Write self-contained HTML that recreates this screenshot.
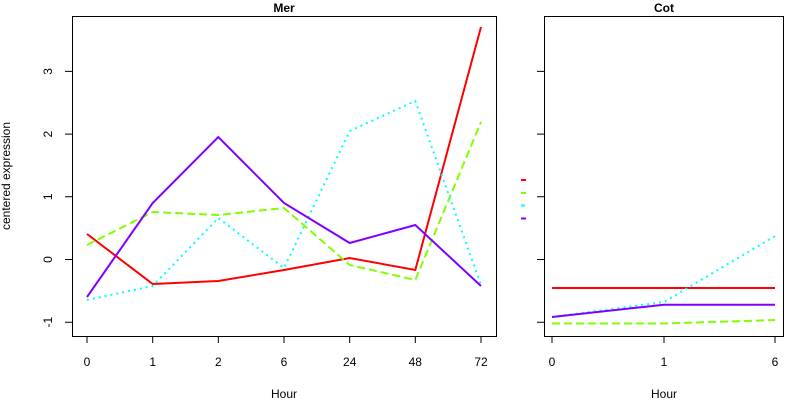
<!DOCTYPE html>
<html><head><style>body{margin:0;background:#fff}svg text{font-family:"Liberation Sans",sans-serif;font-size:12px}</style></head><body>
<svg width="800" height="400" xmlns="http://www.w3.org/2000/svg">
<g fill="none" stroke="#000" stroke-width="1">
<rect x="72.5" y="16.5" width="424" height="320"/>
<rect x="544.5" y="16.5" width="239" height="320"/>
<path d="M87 336v7M152.7 336v7M218.3 336v7M284 336v7M349.7 336v7M415.3 336v7M481 336v7"/>
<path d="M552 336v7M664 336v7M775 336v7"/>
<path d="M72 322.2h-7M72 259.5h-7M72 196.8h-7M72 134.1h-7M72 71.4h-7"/>
<path d="M544 322.2h-7M544 259.5h-7M544 196.8h-7M544 134.1h-7M544 71.4h-7"/>
</g>
<g text-anchor="middle">
<text x="87" y="366">0</text><text x="152.7" y="366">1</text><text x="218.3" y="366">2</text><text x="284" y="366">6</text><text x="349.7" y="366">24</text><text x="415.3" y="366">48</text><text x="481" y="366">72</text>
<text x="552" y="366">0</text><text x="664" y="366">1</text><text x="775" y="366">6</text>
<text x="284" y="398">Hour</text><text x="664" y="398">Hour</text>
<text x="284" y="12" font-weight="bold">Mer</text><text x="664" y="12" font-weight="bold">Cot</text>
<text transform="translate(52,322.2) rotate(-90)">-1</text>
<text transform="translate(52,259.5) rotate(-90)">0</text>
<text transform="translate(52,196.8) rotate(-90)">1</text>
<text transform="translate(52,134.1) rotate(-90)">2</text>
<text transform="translate(52,71.4) rotate(-90)">3</text>
<text transform="translate(10,176) rotate(-90)" font-size="11">centered expression</text>
</g>
<g fill="none" stroke-width="2">
<polyline stroke="#ff0000" points="87,234 152.7,284 218.3,281 284,270 349.7,258 415.3,270 481,27"/>
<polyline stroke="#80ff00" stroke-dasharray="8,4" points="87,245 152.7,212 218.3,215 284,208 349.7,265 415.3,280 481,122"/>
<polyline stroke="#00ffff" stroke-dasharray="2,4" points="87,300 152.7,286 218.3,218 284,268 349.7,131 415.3,101 481,285"/>
<polyline stroke="#8000ff" points="87,297 152.7,203 218.3,137 284,203 349.7,243 415.3,225 481,286"/>
<polyline stroke="#ff0000" points="552,288 664,288 775,288"/>
<polyline stroke="#80ff00" stroke-dasharray="8,4" points="552,323.5 664,323.5 775,320"/>
<polyline stroke="#00ffff" stroke-dasharray="2,4" points="552,317 664,302 775,236"/>
<polyline stroke="#8000ff" points="552,317 664,304.7 775,304.7"/>
<path stroke="#ff0000" d="M521 180h5"/>
<path stroke="#80ff00" d="M521 193h5"/>
<path stroke="#00ffff" d="M521 205.5h4"/>
<path stroke="#8000ff" d="M521 218.5h5"/>
</g>
</svg>
</body></html>
